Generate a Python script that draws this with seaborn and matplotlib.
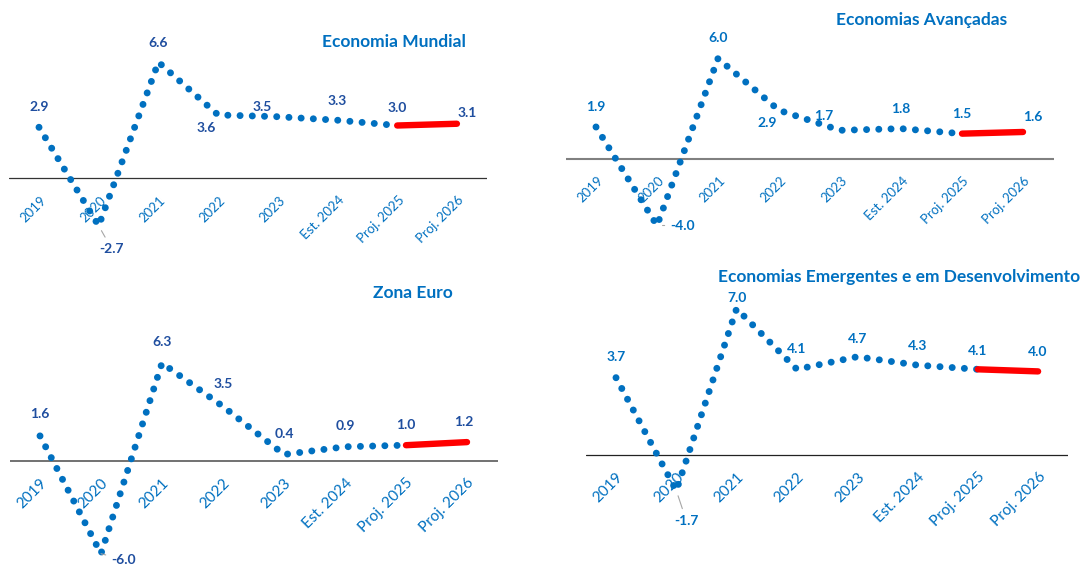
import matplotlib
matplotlib.use("Agg")
import matplotlib.pyplot as plt
import seaborn as sns
import numpy as np

sns.set_theme(style="white")
plt.rcParams['font.family'] = ['Lato', 'DejaVu Sans']

# ---------------- data ----------------
years = ["2019", "2020", "2021", "2022", "2023", "Est. 2024", "Proj. 2025", "Proj. 2026"]
titles = ["Economia Mundial", "Economias Avançadas", "Zona Euro",
          "Economias Emergentes e em Desenvolvimento"]
mundial = [2.9, -2.7, 6.6, 3.6, 3.5, 3.3, 3.0, 3.1]
avancadas = [1.9, -4.0, 6.0, 2.9, 1.7, 1.8, 1.5, 1.6]
zona_euro = [1.6, -6.0, 6.3, 3.5, 0.4, 0.9, 1.0, 1.2]
emergentes = [3.7, -1.7, 7.0, 4.1, 4.7, 4.3, 4.1, 4.0]

W, H = 1085, 565
fig = plt.figure(figsize=(W / 100, H / 100), dpi=100)

# layout per panel (pixels): x of first year, spacing, zero-line y, px per unit, top, bottom
panels = [
    dict(vals=mundial, title=titles[0], x0=39, sp=59.7, zero=178.3, scale=17.6,
         top=0, bot=270, lab_color="#1F4E9F", zero_color="#333333", zero_lw=0.9,
         title_xy=(466, 42), tick_fs=9.5,
         offs=[(0, 20), (13, -23), (0, 19), (-12, -13), (-16, 10), (0, 19), (0, 18), (10, 11)]),
    dict(vals=avancadas, title=titles[1], x0=596, sp=61, zero=158.7, scale=16.7,
         top=0, bot=270, lab_color="#0070C0", zero_color="#808080", zero_lw=1.5,
         title_xy=(1007, 20), tick_fs=9.5,
         offs=[(0, 20), (26, 0), (0, 21), (-12, -13), (-16, 14), (0, 20), (0, 20), (10, 15)]),
    dict(vals=zona_euro, title=titles[2], x0=40, sp=61, zero=460.7, scale=15.5,
         top=275, bot=565, lab_color="#1F4E9F", zero_color="#595959", zero_lw=1.2,
         title_xy=(453, 293), tick_fs=11,
         offs=[(0, 22), (23, -6), (0, 21), (0, 22), (0, 20), (0, 21), (0, 20), (-3, 20)]),
    dict(vals=emergentes, title=titles[3], x0=616, sp=60.3, zero=455, scale=20.9,
         top=265, bot=565, lab_color="#0070C0", zero_color="#222222", zero_lw=0.9,
         title_xy=(1080, 277), tick_fs=11,
         offs=[(0, 21), (10, -30), (0, 11), (0, 20), (0, 18), (0, 19), (0, 18), (0, 19)]),
]

BLUE = "#0070C0"
idx = np.arange(len(years))

for p in panels:
    left = p["x0"] - 0.5 * p["sp"]
    width = 8 * p["sp"]
    ax = fig.add_axes([left / W, 1 - p["bot"] / H, width / W, (p["bot"] - p["top"]) / H])
    ax.set_xlim(-0.5, 7.5)
    ymax = (p["zero"] - p["top"]) / p["scale"]
    ymin = -(p["bot"] - p["zero"]) / p["scale"]
    ax.set_ylim(ymin, ymax)
    ax.patch.set_alpha(0)
    for s in ax.spines.values():
        s.set_visible(False)
    ax.axhline(0, color=p["zero_color"], lw=p["zero_lw"], zorder=1)

    vals = np.array(p["vals"])
    sns.lineplot(x=idx[:7], y=vals[:7], ax=ax, color=BLUE, linewidth=5.0, zorder=3)
    l1 = ax.lines[-1]
    l1.set_linestyle((0, (0.01, 1.75)))
    l1.set_dash_capstyle("round")
    sns.lineplot(x=idx[6:], y=vals[6:], ax=ax, color="#FF0000", linewidth=4.6, zorder=4)
    ax.lines[-1].set_solid_capstyle("round")

    # data labels
    for i, (v, off) in enumerate(zip(vals, p["offs"])):
        kw = {}
        if v < 0:
            kw = dict(arrowprops=dict(arrowstyle="-", color="#A6A6A6", lw=0.8, shrinkA=2, shrinkB=4))
        ax.annotate(f"{v:.1f}", xy=(i, v), xytext=(off[0], off[1]), textcoords="offset pixels",
                    ha="center", va="center", fontsize=10, fontweight="bold",
                    color=p["lab_color"], zorder=5, **kw)

    # category axis labels
    ax.set_yticks([])
    ax.set_xticks(idx)
    ax.set_xticklabels(years)
    ax.tick_params(axis="x", length=0, pad=0)
    for lab in ax.get_xticklabels():
        lab.set_visible(False)
    for i, y in enumerate(years):
        ax.annotate(y, xy=(i, 0), xytext=(5, -20), textcoords="offset pixels", rotation=45,
                    rotation_mode="anchor", ha="right", va="center", fontsize=p["tick_fs"],
                    color=BLUE, zorder=2)

    fig.text(p["title_xy"][0] / W, 1 - p["title_xy"][1] / H, p["title"], ha="right", va="center",
             fontsize=12.5, fontweight="bold", color=BLUE)

fig.savefig("out.png", dpi=100)
